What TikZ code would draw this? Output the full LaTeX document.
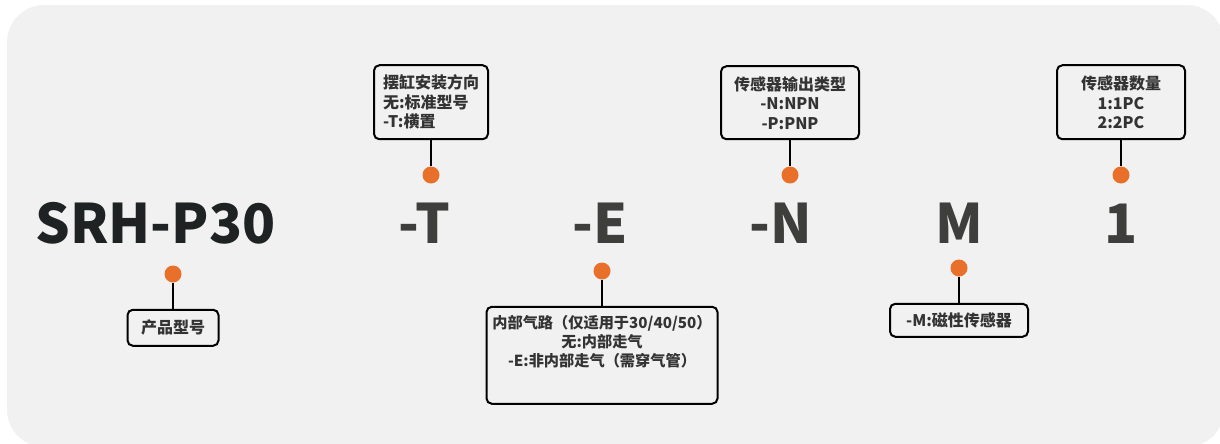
\documentclass[tikz,border=0pt]{standalone}
\usepackage{fontspec}
\setmainfont{Noto Sans CJK SC}
\usetikzlibrary{positioning}
\definecolor{bggray}{RGB}{241,241,241}
\definecolor{dotorange}{RGB}{232,112,42}
\definecolor{codegray}{RGB}{62,62,61}
\definecolor{codeblack}{RGB}{30,34,35}
\definecolor{labelgray}{RGB}{51,51,51}

\begin{document}
\begin{tikzpicture}[x=0.75pt, y=-0.75pt,
    code/.style={font=\fontsize{40.8pt}{48pt}\selectfont\bfseries, text=codegray, inner sep=0pt, anchor=base},
    pin/.style={circle, fill=dotorange, minimum size=12.75pt, inner sep=0pt},
    tag/.style={draw=black, line width=1.5pt, rounded corners=4pt, fill=bggray, text=labelgray,
        font=\fontsize{12pt}{14.6pt}\selectfont\bfseries, align=center, inner sep=0pt, outer sep=0pt},
    stem/.style={line width=1.5pt}]
    \useasboundingbox (0,0) rectangle (1220,443);
    \fill[bggray, rounded corners=28pt] (7,5) rectangle (1224,447);

    % model code
    \node[code, text=codeblack] (srh) at (155.5,243) {SRH-P30};
    \node[code] (t) at (424.5,243) {-T};
    \node[code] (e) at (600,243) {-E};
    \node[code] (n) at (781,243) {-N};
    \node[code] (m) at (959,243) {M};
    \node[code] (q) at (1121.5,243) {1};

    % markers
    \node[pin] (srhdot) at (173,274) {};
    \node[pin] (tdot) at (431,175) {};
    \node[pin] (edot) at (602,271) {};
    \node[pin] (ndot) at (790,175) {};
    \node[pin] (mdot) at (959,268) {};
    \node[pin] (qdot) at (1121,175) {};

    % explanations
    \node[tag, minimum width=68.25pt, minimum height=27pt, below=20.25pt of srhdot] (srhtag) {产品型号};
    \node[tag, minimum width=85.5pt, minimum height=55.5pt, align=left, above=20.25pt of tdot] (ttag)
        {摆缸安装方向\\无:标准型号\\-T:横置};
    \node[tag, minimum width=173.25pt, below=20.25pt of edot] (etag)
        {\parbox[c][72.75pt][t]{170pt}{\centering\fontsize{11.4pt}{14.4pt}\selectfont\vspace*{6.5pt}
        内部气路（仅适用于30/40/50）\\无:内部走气\\-E:非内部走气（需穿气管）}};
    \node[tag, minimum width=103.5pt, minimum height=54.75pt, above=20.25pt of ndot] (ntag)
        {传感器输出类型\\-N:NPN\\-P:PNP};
    \node[tag, minimum width=103.5pt, minimum height=24.75pt, below=20.25pt of mdot] (mtag)
        {-M:磁性传感器};
    \node[tag, minimum width=96pt, minimum height=55.5pt, above=20.25pt of qdot] (qtag)
        {传感器数量\\1:1PC\\2:2PC};

    \draw[stem] (srhdot) -- (srhtag);
    \draw[stem] (tdot) -- (ttag);
    \draw[stem] (edot) -- (etag);
    \draw[stem] (ndot) -- (ntag);
    \draw[stem] (mdot) -- (mtag);
    \draw[stem] (qdot) -- (qtag);
\end{tikzpicture}
\end{document}
